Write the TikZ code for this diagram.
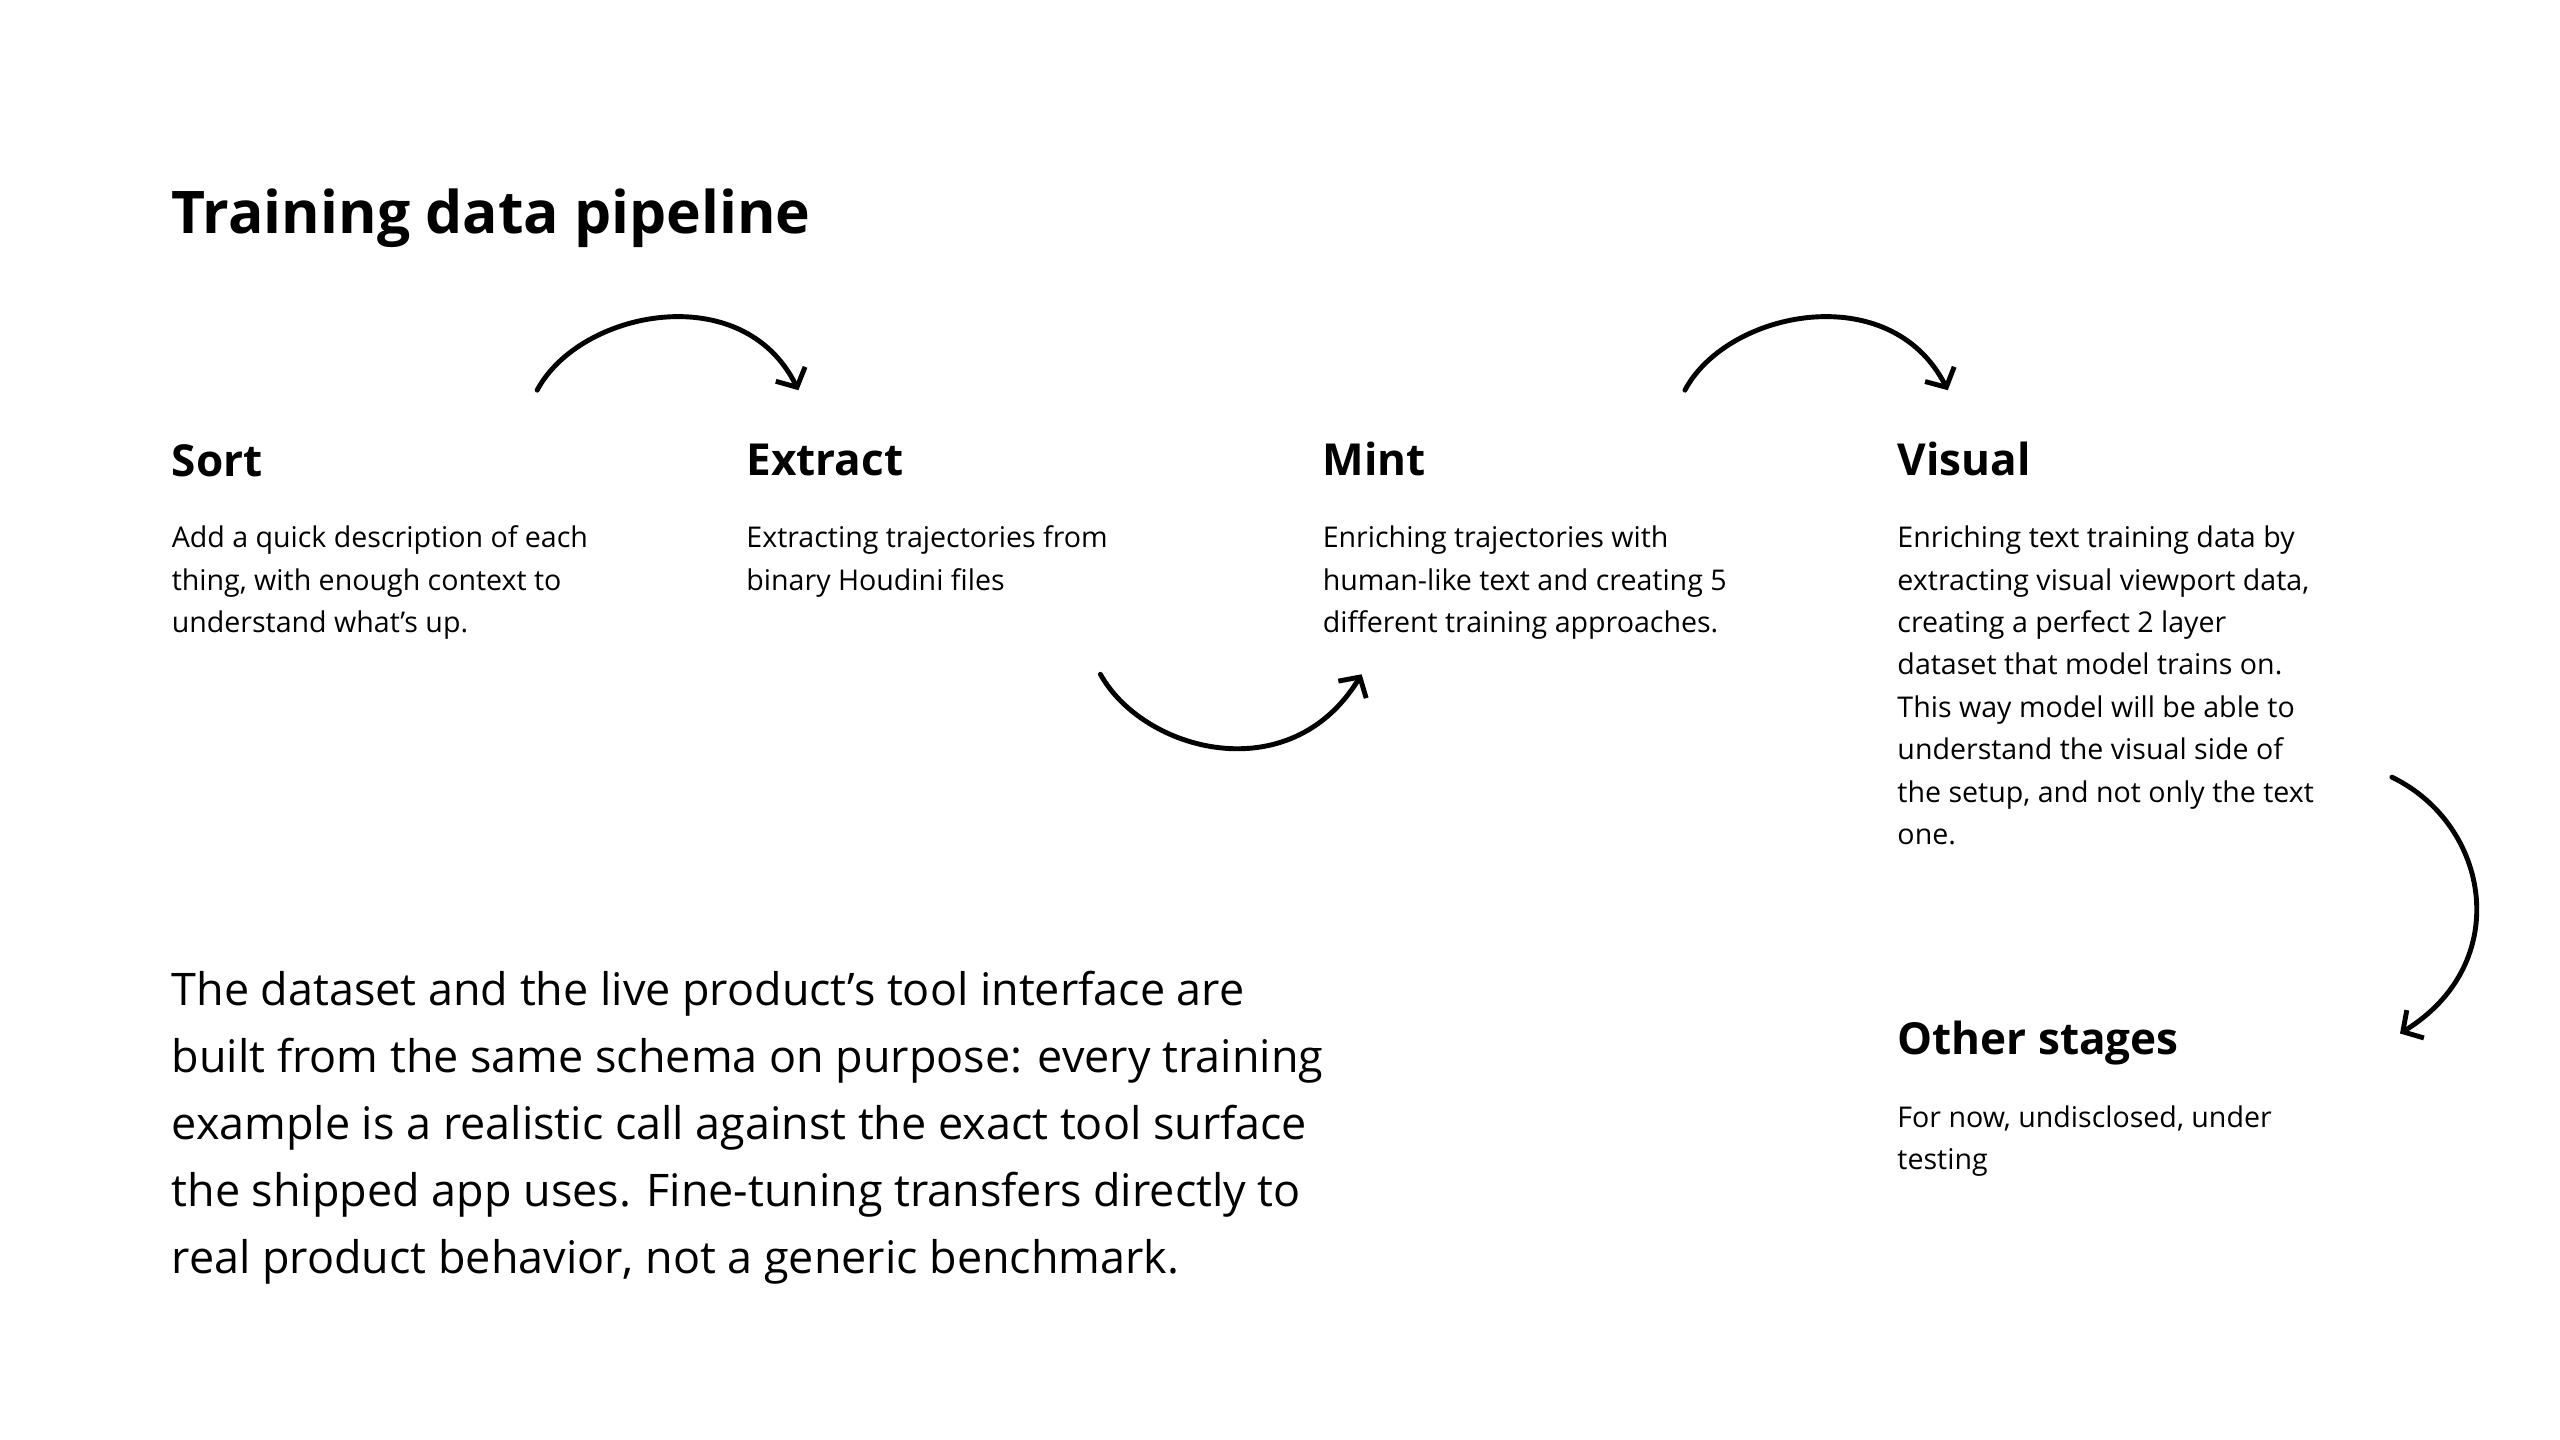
\documentclass[tikz,border=0pt]{standalone}
\usepackage{fontspec}
\setmainfont{Open Sans}
\usetikzlibrary{arrows.meta}
\begin{document}
\begin{tikzpicture}[x=1pt,y=-1pt,
  title/.style={anchor=base west,inner sep=0,font=\fontsize{36}{40}\selectfont\bfseries},
  head/.style={anchor=base west,inner sep=0,font=\fontsize{27}{30}\selectfont\bfseries},
  body/.style={anchor=north west,inner sep=0,align=left,font=\fontsize{17.5}{26}\selectfont},
  para/.style={anchor=north west,inner sep=0,align=left,font=\fontsize{27.5}{41}\selectfont},
  arr/.style={line width=3pt,line cap=round,-{Straight Barb[length=9pt,width=20pt,line width=3pt]}}]
\useasboundingbox[fill=white] (0,0) rectangle (1568,882);
\node[title] (t) at (105,143) {Training data pipeline};
\node[head] (h1) at (105,292) {Sort};
\node[head] (h2) at (457,291) {Extract};
\node[head] (h3) at (810,291) {Mint};
\node[head] (h4) at (1162,291) {Visual};
\node[head] (h5) at (1162,646) {Other stages};
\node[body] (b1) at (105,317) {\strut Add a quick description of each\\thing, with enough context to\\understand what’s up.};
\node[body] (b2) at (457,317) {\strut Extracting trajectories from\\binary Houdini files};
\node[body] (b3) at (810,317) {\strut Enriching trajectories with\\human-like text and creating 5\\different training approaches.};
\node[body] (b4) at (1162,317) {\strut Enriching text training data by\\extracting visual viewport data,\\creating a perfect 2 layer\\dataset that model trains on.\\This way model will be able to\\understand the visual side of\\the setup, and not only the text\\one.};
\node[body] (b5) at (1162,672) {\strut For now, undisclosed, under\\testing};
\node[para] (p) at (105,587) {\strut The dataset and the live product's tool interface are\\built from the same schema on purpose: every training\\example is a realistic call against the exact tool surface\\the shipped app uses. Fine-tuning transfers directly to\\real product behavior, not a generic benchmark.};
\coordinate (a1s) at (329,239); \coordinate (a1e) at (489,239);
\coordinate (a2s) at (674,413); \coordinate (a2e) at (834,413);
\coordinate (a3s) at (1032,239); \coordinate (a3e) at (1193,239);
\coordinate (a4s) at (1465,476); \coordinate (a4e) at (1470,633);
\draw[arr] (a1s) .. controls (355,190) and (455,170) .. (a1e);
\draw[arr] (a2s) .. controls (700,460) and (790,485) .. (a2e);
\draw[arr] (a3s) .. controls (1058,190) and (1158,170) .. (a3e);
\draw[arr] (a4s) .. controls (1525,505) and (1540,590) .. (a4e);
\end{tikzpicture}
\end{document}
